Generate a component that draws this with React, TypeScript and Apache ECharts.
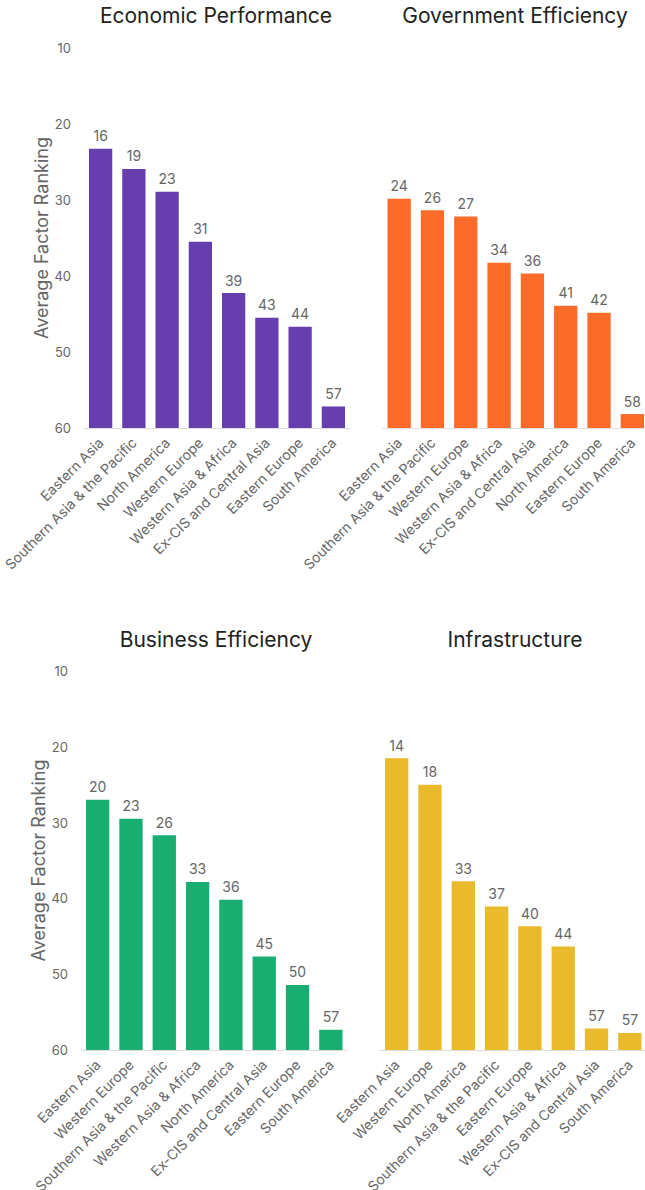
import React, { useEffect, useRef } from "react";
import * as echarts from "echarts";

const FONT = 'Inter, "Noto Sans", sans-serif';

// Y tick labels as shown in the picture (evenly spaced)
const yTickLabels = ["10", "20", "30", "40", "50", "60"];

const titles = ["Economic Performance", "Government Efficiency", "Business Efficiency", "Infrastructure"];

const econCategories = [
  "Eastern Asia",
  "Southern Asia & the Pacific",
  "North America",
  "Western Europe",
  "Western Asia & Africa",
  "Ex-CIS and Central Asia",
  "Eastern Europe",
  "South America",
];
const econValues = [15.9, 19.1, 22.7, 30.6, 38.7, 42.6, 44.0, 56.6];

const govCategories = [
  "Eastern Asia",
  "Southern Asia & the Pacific",
  "Western Europe",
  "Western Asia & Africa",
  "Ex-CIS and Central Asia",
  "North America",
  "Eastern Europe",
  "South America",
];
const govValues = [23.8, 25.6, 26.6, 33.9, 35.6, 40.7, 41.8, 57.8];

const busCategories = [
  "Eastern Asia",
  "Western Europe",
  "Southern Asia & the Pacific",
  "Western Asia & Africa",
  "North America",
  "Ex-CIS and Central Asia",
  "Eastern Europe",
  "South America",
];
const busValues = [20.4, 23.4, 26.0, 33.4, 36.2, 45.2, 49.7, 56.8];

const infraCategories = [
  "Eastern Asia",
  "Western Europe",
  "North America",
  "Southern Asia & the Pacific",
  "Eastern Europe",
  "Western Asia & Africa",
  "Ex-CIS and Central Asia",
  "South America",
];
const infraValues = [13.8, 18.0, 33.3, 37.3, 40.4, 43.6, 56.6, 57.3];

const colors = ["#673ead", "#fc6b2a", "#19ad72", "#e9bb2c"];
const allCategories = [econCategories, govCategories, busCategories, infraCategories];
const allValues = [econValues, govValues, busValues, infraValues];

// layout
const grids = [
  { left: 84, top: 48, width: 266, height: 380 },
  { left: 382.5, top: 48, width: 266.5, height: 380 },
  { left: 81, top: 671, width: 266.5, height: 379 },
  { left: 380, top: 671, width: 266.5, height: 379 },
];
const titlePos = [
  { x: 216, y: 5 },
  { x: 515, y: 5 },
  { x: 216, y: 629 },
  { x: 515, y: 629 },
];

export default function App() {
  const ref = useRef<HTMLDivElement>(null);
  useEffect(() => {
    document.body.style.margin = "0";
    const chart = echarts.init(ref.current!, null, { renderer: "svg" });
    const option: any = {
      animation: false,
      backgroundColor: "#ffffff",
      title: titles.map((t, i) => ({
        text: t,
        left: titlePos[i].x,
        top: titlePos[i].y,
        textAlign: "center",
        padding: 0,
        textStyle: { fontFamily: FONT, fontSize: 21, fontWeight: "normal", color: "#222" },
      })),
      grid: grids.map((g) => ({ ...g, containLabel: false, outerBoundsMode: "none" })),
      xAxis: allCategories.map((cats, i) => ({
        type: "category",
        gridIndex: i,
        position: "bottom",
        data: cats,
        axisLine: { show: true, onZero: false, lineStyle: { color: "#dddddd", width: 1 } },
        axisTick: { show: false },
        axisLabel: {
          interval: 0,
          rotate: 45,
          margin: 12,
          color: "#666",
          fontSize: 14,
          fontFamily: FONT,
        },
        splitLine: { show: false },
      })),
      yAxis: allCategories.map((_, i) => {
        const left = i % 2 === 0;
        return {
          type: "value",
          gridIndex: i,
          inverse: true,
          min: 0,
          max: 60,
          interval: 12,
          axisLine: { show: false },
          axisTick: { show: false },
          splitLine: { show: false },
          axisLabel: {
            show: left,
            margin: 13,
            color: "#666",
            fontSize: 13,
            fontFamily: FONT,
            formatter: (v: number) => yTickLabels[Math.round(v / 12)] ?? "",
          },
          name: left ? "Average Factor Ranking" : "",
          nameLocation: "middle",
          nameGap: 34,
          nameTextStyle: { color: "#666", fontSize: 18, fontFamily: FONT },
        };
      }),
      series: allValues.map((vals, i) => ({
        type: "custom",
        xAxisIndex: i,
        yAxisIndex: i,
        clip: false,
        data: vals.map((v, j) => [j, v]),
        renderItem: (params: any, api: any) => {
          const x = api.value(0);
          const v = api.value(1);
          const top = api.coord([x, v]);
          const base = api.coord([x, 60]);
          const bw = api.size([1, 0])[0] * 0.7;
          return {
            type: "group",
            children: [
              {
                type: "rect",
                shape: { x: top[0] - bw / 2, y: top[1], width: bw, height: base[1] - top[1] },
                style: { fill: colors[i] },
              },
              {
                type: "text",
                x: top[0],
                y: top[1] - 6,
                style: {
                  text: String(Math.round(v)),
                  align: "center",
                  verticalAlign: "bottom",
                  fill: "#666",
                  fontSize: 14,
                  fontFamily: FONT,
                },
              },
            ],
          };
        },
      })),
    };
    chart.setOption(option);
    return () => chart.dispose();
  }, []);
  return <div ref={ref} style={{ width: 645, height: 1190 }} />;
}
